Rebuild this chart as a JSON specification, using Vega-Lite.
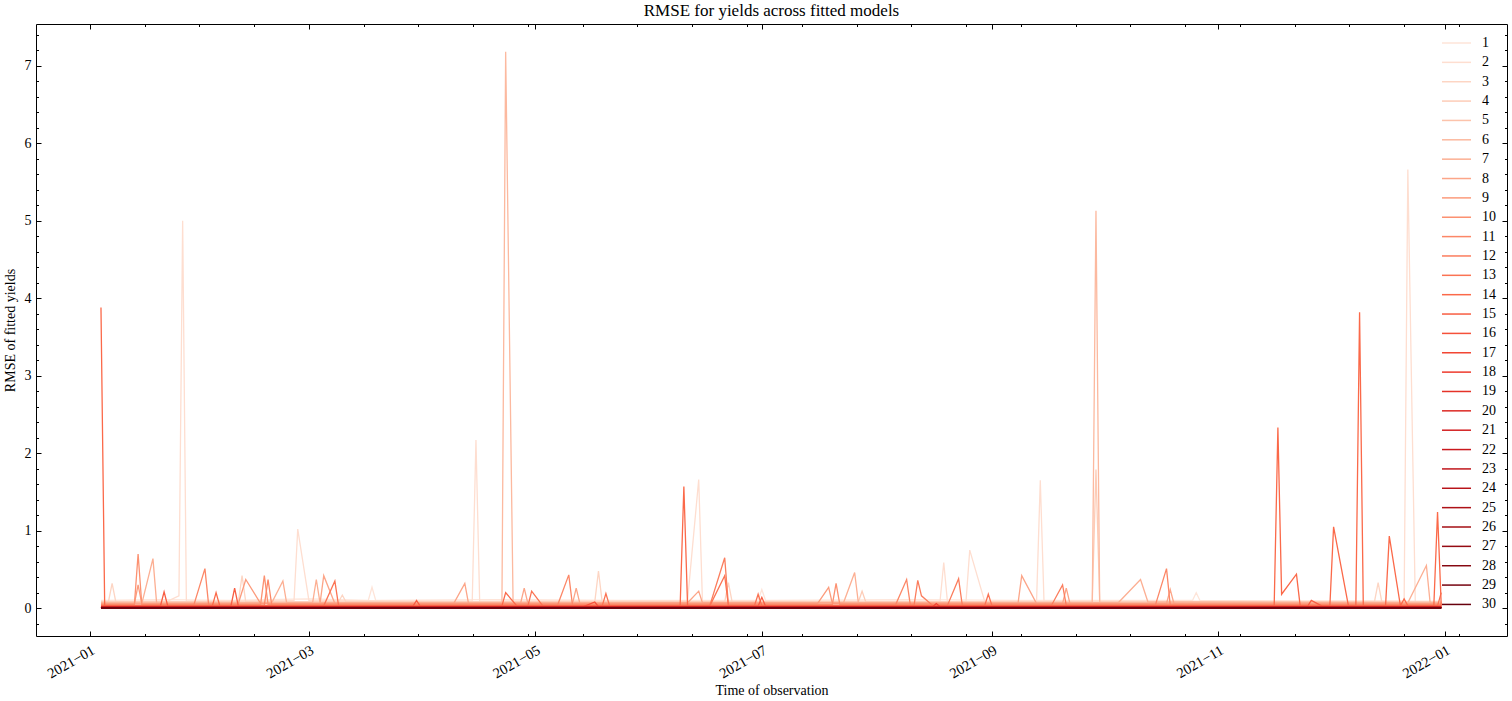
{
"$schema": "https://vega.github.io/schema/vega-lite/v6.json",
"width": 1471, "height": 612,
"autosize": {"type": "none"},
"padding": {"left": 36, "top": 24, "right": 5, "bottom": 65},
"background": "white",
"title": {"text": "RMSE for yields across fitted models", "font": "Liberation Serif", "fontSize": 17, "fontWeight": "normal", "color": "black", "offset": 4},
"config": {"font": "Liberation Serif", "view": {"stroke": null}},
"datasets": {"rmse": [
{"s":1,"d":"2021-01-04","v":0.1},{"s":1,"d":"2021-01-20","v":0.11},{"s":1,"d":"2021-02-08","v":0.1},{"s":1,"d":"2021-03-01","v":0.12},{"s":1,"d":"2021-03-17","v":0.1},{"s":1,"d":"2021-03-18","v":0.27},{"s":1,"d":"2021-03-19","v":0.1},{"s":1,"d":"2021-04-20","v":0.11},{"s":1,"d":"2021-05-25","v":0.1},{"s":1,"d":"2021-06-30","v":0.1},{"s":1,"d":"2021-07-01","v":0.24},{"s":1,"d":"2021-07-02","v":0.1},{"s":1,"d":"2021-08-10","v":0.11},{"s":1,"d":"2021-09-10","v":0.1},{"s":1,"d":"2021-10-25","v":0.1},{"s":1,"d":"2021-10-26","v":0.2},{"s":1,"d":"2021-10-27","v":0.1},{"s":1,"d":"2021-11-22","v":0.09},{"s":1,"d":"2021-12-31","v":0.09},
{"s":2,"d":"2021-01-04","v":0.09},{"s":2,"d":"2021-01-22","v":0.09},{"s":2,"d":"2021-01-25","v":0.16},{"s":2,"d":"2021-01-26","v":5.0},{"s":2,"d":"2021-01-27","v":0.09},{"s":2,"d":"2021-02-25","v":0.1},{"s":2,"d":"2021-02-26","v":1.02},{"s":2,"d":"2021-03-01","v":0.1},{"s":2,"d":"2021-04-14","v":0.09},{"s":2,"d":"2021-04-15","v":2.17},{"s":2,"d":"2021-04-16","v":0.09},{"s":2,"d":"2021-06-11","v":0.1},{"s":2,"d":"2021-06-14","v":1.66},{"s":2,"d":"2021-06-15","v":0.09},{"s":2,"d":"2021-08-18","v":0.09},{"s":2,"d":"2021-08-19","v":0.59},{"s":2,"d":"2021-08-20","v":0.08},{"s":2,"d":"2021-08-25","v":0.09},{"s":2,"d":"2021-08-26","v":0.75},{"s":2,"d":"2021-08-30","v":0.09},{"s":2,"d":"2021-09-13","v":0.09},{"s":2,"d":"2021-09-14","v":1.65},{"s":2,"d":"2021-09-15","v":0.09},{"s":2,"d":"2021-12-21","v":0.09},{"s":2,"d":"2021-12-22","v":5.66},{"s":2,"d":"2021-12-24","v":0.08},{"s":2,"d":"2021-12-31","v":0.08},
{"s":3,"d":"2021-01-04","v":0.08},{"s":3,"d":"2021-01-06","v":0.08},{"s":3,"d":"2021-01-07","v":0.32},{"s":3,"d":"2021-01-08","v":0.08},{"s":3,"d":"2021-02-10","v":0.08},{"s":3,"d":"2021-02-11","v":0.42},{"s":3,"d":"2021-02-12","v":0.08},{"s":3,"d":"2021-03-09","v":0.08},{"s":3,"d":"2021-03-10","v":0.17},{"s":3,"d":"2021-03-11","v":0.08},{"s":3,"d":"2021-05-17","v":0.08},{"s":3,"d":"2021-05-18","v":0.48},{"s":3,"d":"2021-05-19","v":0.08},{"s":3,"d":"2021-06-21","v":0.08},{"s":3,"d":"2021-06-22","v":0.33},{"s":3,"d":"2021-06-23","v":0.08},{"s":3,"d":"2021-12-13","v":0.08},{"s":3,"d":"2021-12-14","v":0.33},{"s":3,"d":"2021-12-15","v":0.08},{"s":3,"d":"2021-12-31","v":0.08},
{"s":4,"d":"2021-01-04","v":0.08},{"s":4,"d":"2021-03-01","v":0.08},{"s":4,"d":"2021-05-03","v":0.08},{"s":4,"d":"2021-07-27","v":0.08},{"s":4,"d":"2021-07-28","v":0.22},{"s":4,"d":"2021-07-29","v":0.08},{"s":4,"d":"2021-09-28","v":0.08},{"s":4,"d":"2021-09-29","v":1.79},{"s":4,"d":"2021-09-30","v":0.08},{"s":4,"d":"2021-12-31","v":0.08},
{"s":5,"d":"2021-01-04","v":0.075},{"s":5,"d":"2021-04-01","v":0.07},{"s":5,"d":"2021-07-01","v":0.075},{"s":5,"d":"2021-10-01","v":0.07},{"s":5,"d":"2021-12-31","v":0.07},
{"s":6,"d":"2021-01-04","v":0.07},{"s":6,"d":"2021-02-15","v":0.07},{"s":6,"d":"2021-04-22","v":0.07},{"s":6,"d":"2021-04-23","v":7.18},{"s":6,"d":"2021-04-25","v":0.07},{"s":6,"d":"2021-06-01","v":0.07},{"s":6,"d":"2021-09-28","v":0.07},{"s":6,"d":"2021-09-29","v":5.13},{"s":6,"d":"2021-09-30","v":0.07},{"s":6,"d":"2021-12-31","v":0.07},
{"s":7,"d":"2021-01-04","v":0.065},{"s":7,"d":"2021-01-15","v":0.06},{"s":7,"d":"2021-01-18","v":0.64},{"s":7,"d":"2021-01-19","v":0.06},{"s":7,"d":"2021-02-19","v":0.07},{"s":7,"d":"2021-02-22","v":0.35},{"s":7,"d":"2021-02-23","v":0.07},{"s":7,"d":"2021-03-02","v":0.07},{"s":7,"d":"2021-03-03","v":0.37},{"s":7,"d":"2021-03-04","v":0.07},{"s":7,"d":"2021-07-23","v":0.07},{"s":7,"d":"2021-07-26","v":0.46},{"s":7,"d":"2021-07-27","v":0.07},{"s":7,"d":"2021-10-05","v":0.07},{"s":7,"d":"2021-10-11","v":0.37},{"s":7,"d":"2021-10-13","v":0.08},{"s":7,"d":"2021-12-22","v":0.07},{"s":7,"d":"2021-12-27","v":0.55},{"s":7,"d":"2021-12-28","v":0.07},{"s":7,"d":"2021-12-31","v":0.06},
{"s":8,"d":"2021-01-04","v":0.06},{"s":8,"d":"2021-03-04","v":0.06},{"s":8,"d":"2021-03-05","v":0.42},{"s":8,"d":"2021-03-08","v":0.06},{"s":8,"d":"2021-04-09","v":0.06},{"s":8,"d":"2021-04-12","v":0.32},{"s":8,"d":"2021-04-13","v":0.06},{"s":8,"d":"2021-04-27","v":0.06},{"s":8,"d":"2021-04-28","v":0.26},{"s":8,"d":"2021-04-29","v":0.06},{"s":8,"d":"2021-05-11","v":0.06},{"s":8,"d":"2021-05-12","v":0.26},{"s":8,"d":"2021-05-13","v":0.06},{"s":8,"d":"2021-06-11","v":0.07},{"s":8,"d":"2021-06-14","v":0.22},{"s":8,"d":"2021-06-15","v":0.07},{"s":8,"d":"2021-09-08","v":0.06},{"s":8,"d":"2021-09-09","v":0.42},{"s":8,"d":"2021-09-13","v":0.06},{"s":8,"d":"2021-09-20","v":0.06},{"s":8,"d":"2021-09-21","v":0.26},{"s":8,"d":"2021-09-22","v":0.06},{"s":8,"d":"2021-10-18","v":0.06},{"s":8,"d":"2021-10-19","v":0.24},{"s":8,"d":"2021-10-20","v":0.06},{"s":8,"d":"2021-12-31","v":0.06},
{"s":9,"d":"2021-01-04","v":0.055},{"s":9,"d":"2021-01-13","v":0.055},{"s":9,"d":"2021-01-14","v":0.3},{"s":9,"d":"2021-01-15","v":0.055},{"s":9,"d":"2021-02-10","v":0.06},{"s":9,"d":"2021-02-12","v":0.37},{"s":9,"d":"2021-02-16","v":0.06},{"s":9,"d":"2021-07-16","v":0.06},{"s":9,"d":"2021-07-19","v":0.27},{"s":9,"d":"2021-07-20","v":0.06},{"s":9,"d":"2021-12-31","v":0.055},
{"s":10,"d":"2021-01-04","v":0.045},{"s":10,"d":"2021-01-13","v":0.045},{"s":10,"d":"2021-01-14","v":0.7},{"s":10,"d":"2021-01-15","v":0.045},{"s":10,"d":"2021-02-16","v":0.05},{"s":10,"d":"2021-02-17","v":0.42},{"s":10,"d":"2021-02-18","v":0.05},{"s":10,"d":"2021-07-20","v":0.05},{"s":10,"d":"2021-07-21","v":0.32},{"s":10,"d":"2021-07-22","v":0.05},{"s":10,"d":"2021-12-31","v":0.045},
{"s":11,"d":"2021-01-04","v":0.04},{"s":11,"d":"2021-01-29","v":0.04},{"s":11,"d":"2021-02-01","v":0.51},{"s":11,"d":"2021-02-02","v":0.04},{"s":11,"d":"2021-02-17","v":0.04},{"s":11,"d":"2021-02-18","v":0.37},{"s":11,"d":"2021-02-19","v":0.04},{"s":11,"d":"2021-05-07","v":0.04},{"s":11,"d":"2021-05-10","v":0.43},{"s":11,"d":"2021-05-11","v":0.04},{"s":11,"d":"2021-08-06","v":0.04},{"s":11,"d":"2021-08-09","v":0.37},{"s":11,"d":"2021-08-10","v":0.04},{"s":11,"d":"2021-10-15","v":0.04},{"s":11,"d":"2021-10-18","v":0.51},{"s":11,"d":"2021-10-19","v":0.04},{"s":11,"d":"2021-12-31","v":0.04},
{"s":12,"d":"2021-01-04","v":0.035},{"s":12,"d":"2021-06-17","v":0.035},{"s":12,"d":"2021-06-21","v":0.65},{"s":12,"d":"2021-06-22","v":0.035},{"s":12,"d":"2021-08-11","v":0.035},{"s":12,"d":"2021-08-12","v":0.36},{"s":12,"d":"2021-08-13","v":0.16},{"s":12,"d":"2021-08-16","v":0.035},{"s":12,"d":"2021-08-20","v":0.035},{"s":12,"d":"2021-08-23","v":0.38},{"s":12,"d":"2021-08-24","v":0.035},{"s":12,"d":"2021-09-17","v":0.035},{"s":12,"d":"2021-09-20","v":0.3},{"s":12,"d":"2021-09-21","v":0.035},{"s":12,"d":"2021-12-31","v":0.035},
{"s":13,"d":"2021-01-04","v":0.03},{"s":13,"d":"2021-03-05","v":0.03},{"s":13,"d":"2021-03-08","v":0.35},{"s":13,"d":"2021-03-09","v":0.03},{"s":13,"d":"2021-04-29","v":0.03},{"s":13,"d":"2021-04-30","v":0.22},{"s":13,"d":"2021-05-03","v":0.03},{"s":13,"d":"2021-05-19","v":0.03},{"s":13,"d":"2021-05-20","v":0.19},{"s":13,"d":"2021-05-21","v":0.03},{"s":13,"d":"2021-06-17","v":0.03},{"s":13,"d":"2021-06-21","v":0.42},{"s":13,"d":"2021-06-22","v":0.03},{"s":13,"d":"2021-06-29","v":0.03},{"s":13,"d":"2021-06-30","v":0.18},{"s":13,"d":"2021-07-01","v":0.03},{"s":13,"d":"2021-08-30","v":0.03},{"s":13,"d":"2021-08-31","v":0.18},{"s":13,"d":"2021-09-01","v":0.03},{"s":13,"d":"2021-12-30","v":0.03},{"s":13,"d":"2021-12-31","v":0.2},
{"s":14,"d":"2021-01-04","v":3.88},{"s":14,"d":"2021-01-05","v":0.03},{"s":14,"d":"2021-02-03","v":0.03},{"s":14,"d":"2021-02-04","v":0.2},{"s":14,"d":"2021-02-05","v":0.03},{"s":14,"d":"2021-04-22","v":0.03},{"s":14,"d":"2021-04-23","v":0.2},{"s":14,"d":"2021-04-26","v":0.03},{"s":14,"d":"2021-06-09","v":0.03},{"s":14,"d":"2021-06-10","v":1.57},{"s":14,"d":"2021-06-11","v":0.03},{"s":14,"d":"2021-11-16","v":0.03},{"s":14,"d":"2021-11-17","v":2.33},{"s":14,"d":"2021-11-18","v":0.18},{"s":14,"d":"2021-11-22","v":0.44},{"s":14,"d":"2021-11-23","v":0.03},{"s":14,"d":"2021-12-01","v":0.03},{"s":14,"d":"2021-12-02","v":1.05},{"s":14,"d":"2021-12-06","v":0.03},{"s":14,"d":"2021-12-08","v":0.03},{"s":14,"d":"2021-12-09","v":3.82},{"s":14,"d":"2021-12-10","v":0.03},{"s":14,"d":"2021-12-16","v":0.03},{"s":14,"d":"2021-12-17","v":0.93},{"s":14,"d":"2021-12-20","v":0.03},{"s":14,"d":"2021-12-21","v":0.12},{"s":14,"d":"2021-12-22","v":0.03},{"s":14,"d":"2021-12-29","v":0.03},{"s":14,"d":"2021-12-30","v":1.24},{"s":14,"d":"2021-12-31","v":0.03},
{"s":15,"d":"2021-01-04","v":0.025},{"s":15,"d":"2021-01-20","v":0.025},{"s":15,"d":"2021-01-21","v":0.21},{"s":15,"d":"2021-01-22","v":0.025},{"s":15,"d":"2021-02-08","v":0.025},{"s":15,"d":"2021-02-09","v":0.26},{"s":15,"d":"2021-02-10","v":0.025},{"s":15,"d":"2021-03-29","v":0.025},{"s":15,"d":"2021-03-30","v":0.1},{"s":15,"d":"2021-03-31","v":0.025},{"s":15,"d":"2021-06-30","v":0.025},{"s":15,"d":"2021-07-01","v":0.14},{"s":15,"d":"2021-07-02","v":0.025},{"s":15,"d":"2021-11-25","v":0.025},{"s":15,"d":"2021-11-26","v":0.1},{"s":15,"d":"2021-11-29","v":0.025},{"s":15,"d":"2021-12-31","v":0.025},
{"s":16,"d":"2021-01-04","v":0.02},{"s":16,"d":"2021-03-01","v":0.02},{"s":16,"d":"2021-05-14","v":0.02},{"s":16,"d":"2021-05-17","v":0.08},{"s":16,"d":"2021-05-18","v":0.02},{"s":16,"d":"2021-08-02","v":0.02},{"s":16,"d":"2021-10-01","v":0.02},{"s":16,"d":"2021-12-31","v":0.02},
{"s":17,"d":"2021-01-04","v":0.018},{"s":17,"d":"2021-04-01","v":0.018},{"s":17,"d":"2021-08-16","v":0.018},{"s":17,"d":"2021-08-17","v":0.06},{"s":17,"d":"2021-08-18","v":0.018},{"s":17,"d":"2021-12-31","v":0.018},
{"s":18,"d":"2021-01-04","v":0.016},{"s":18,"d":"2021-06-01","v":0.016},{"s":18,"d":"2021-12-31","v":0.016},
{"s":19,"d":"2021-01-04","v":0.014},{"s":19,"d":"2021-06-01","v":0.014},{"s":19,"d":"2021-12-31","v":0.014},
{"s":20,"d":"2021-01-04","v":0.012},{"s":20,"d":"2021-12-31","v":0.012},
{"s":21,"d":"2021-01-04","v":0.011},{"s":21,"d":"2021-12-31","v":0.011},
{"s":22,"d":"2021-01-04","v":0.01},{"s":22,"d":"2021-12-31","v":0.01},
{"s":23,"d":"2021-01-04","v":0.009},{"s":23,"d":"2021-12-31","v":0.009},
{"s":24,"d":"2021-01-04","v":0.008},{"s":24,"d":"2021-12-31","v":0.008},
{"s":25,"d":"2021-01-04","v":0.007},{"s":25,"d":"2021-12-31","v":0.007},
{"s":26,"d":"2021-01-04","v":0.006},{"s":26,"d":"2021-12-31","v":0.006},
{"s":27,"d":"2021-01-04","v":0.005},{"s":27,"d":"2021-12-31","v":0.005},
{"s":28,"d":"2021-01-04","v":0.004},{"s":28,"d":"2021-12-31","v":0.004},
{"s":29,"d":"2021-01-04","v":0.003},{"s":29,"d":"2021-12-31","v":0.003},
{"s":30,"d":"2021-01-04","v":0.002},{"s":30,"d":"2021-12-31","v":0.002}
]},
"layer": [
{
"data": {"name": "rmse"},
"mark": {"type": "line", "strokeWidth": 1.3, "clip": true},
"encoding": {
"x": {"field": "d", "type": "temporal",
 "scale": {"type": "utc", "domain": [{"year": 2020, "month": 12, "date": 17, "hours": 12, "utc": true}, {"year": 2022, "month": 1, "date": 17, "hours": 17, "utc": true}]},
 "axis": {"orient": "bottom", "grid": false, "domainColor": "black", "tickColor": "black", "labelColor": "black", "titleColor": "black",
  "values": [1608184800000,1609459200000,1610733600000,1612008000000,1613282400000,1614556800000,1615831200000,1617105600000,1618380000000,1619654400000,1619827200000,1620928800000,1622203200000,1623477600000,1624752000000,1625097600000,1626026400000,1627300800000,1628575200000,1629849600000,1630454400000,1631124000000,1632398400000,1633672800000,1634947200000,1635724800000,1636221600000,1637496000000,1638770400000,1640044800000,1640995200000,1641319200000],
  "labelExpr": "(utcdate(datum.value)==1 && utchours(datum.value)==0 && utcmonth(datum.value)%2==0) ? utcFormat(datum.value, '%Y\u2212%m') : ''",
  "tickSize": {"condition": {"test": "utcdate(datum.value)==1 && utchours(datum.value)==0 && utcmonth(datum.value)%2==0", "value": -5}, "value": -2.5},
  "labelAngle": -30, "labelAlign": "right", "labelBaseline": "top", "labelFontSize": 14.5, "labelPadding": 12, "labelOverlap": false, "labelFlush": false, "labelBound": false,
  "title": "Time of observation", "titleFontSize": 14, "titleFontWeight": "normal", "titlePadding": 3}},
"y": {"field": "v", "type": "quantitative",
 "scale": {"domain": [-0.359, 7.539], "nice": false, "zero": false},
 "axis": {"orient": "left", "grid": false, "domainColor": "black", "tickColor": "black", "labelColor": "black", "titleColor": "black",
  "values": [-0.2,0,0.2,0.4,0.6,0.8,1,1.2,1.4,1.6,1.8,2,2.2,2.4,2.6,2.8,3,3.2,3.4,3.6,3.8,4,4.2,4.4,4.6,4.8,5,5.2,5.4,5.6,5.8,6,6.2,6.4,6.6,6.8,7,7.2,7.4],
  "labelExpr": "datum.value % 1 === 0 ? format(datum.value, 'd') : ''",
  "tickSize": {"condition": {"test": "datum.value % 1 === 0", "value": -5}, "value": -2.5},
  "labelFontSize": 14, "labelPadding": 10, "labelOverlap": false, "labelFlush": false, "labelBound": false,
  "title": "RMSE of fitted yields", "titleFontSize": 14, "titleFontWeight": "normal", "titlePadding": 7}},
"color": {"field": "s", "type": "ordinal",
 "scale": {"domain": [1,2,3,4,5,6,7,8,9,10,11,12,13,14,15,16,17,18,19,20,21,22,23,24,25,26,27,28,29,30],
  "range": ["#fee4d8","#feded0","#fdd5c3","#fdccb7","#fcc3ab","#fcb99f","#fcaf93","#fca588","#fc9b7c","#fc9171","#fc8767","#fb7d5d","#fb7353","#fb6949","#f85d42","#f5513a","#f24633","#ee3a2c","#e53228","#dc2924","#d32021","#ca181d","#c1161b","#b81319","#ae1117","#a50f15","#950b13","#860811","#76040f","#67000d"]},
 "legend": {"orient": "none", "legendX": 1410, "legendY": 8.5, "title": null, "padding": 0, "rowPadding": 1.36,
  "symbolType": "M-1.5,0H1.5", "symbolSize": 375, "symbolStrokeWidth": 1.5, "labelFontSize": 14, "labelColor": "black", "labelOffset": 15}}
}
},
{
"data": {"values": [{"d": "2021-06-01", "v": 0}]},
"mark": {"type": "point", "opacity": 0},
"encoding": {
"x": {"field": "d", "type": "temporal",
 "scale": {"type": "utc", "domain": [{"year": 2020, "month": 12, "date": 17, "hours": 12, "utc": true}, {"year": 2022, "month": 1, "date": 17, "hours": 17, "utc": true}]},
 "axis": {"orient": "top", "grid": false, "labels": false, "title": null, "domainColor": "black", "tickColor": "black",
  "values": [1608184800000,1609459200000,1610733600000,1612008000000,1613282400000,1614556800000,1615831200000,1617105600000,1618380000000,1619654400000,1619827200000,1620928800000,1622203200000,1623477600000,1624752000000,1625097600000,1626026400000,1627300800000,1628575200000,1629849600000,1630454400000,1631124000000,1632398400000,1633672800000,1634947200000,1635724800000,1636221600000,1637496000000,1638770400000,1640044800000,1640995200000,1641319200000],
  "tickSize": {"condition": {"test": "utcdate(datum.value)==1 && utchours(datum.value)==0 && utcmonth(datum.value)%2==0", "value": -5}, "value": -2.5}}},
"y": {"field": "v", "type": "quantitative",
 "scale": {"domain": [-0.359, 7.539], "nice": false, "zero": false},
 "axis": {"orient": "right", "grid": false, "labels": false, "title": null, "domainColor": "black", "tickColor": "black",
  "values": [-0.2,0,0.2,0.4,0.6,0.8,1,1.2,1.4,1.6,1.8,2,2.2,2.4,2.6,2.8,3,3.2,3.4,3.6,3.8,4,4.2,4.4,4.6,4.8,5,5.2,5.4,5.6,5.8,6,6.2,6.4,6.6,6.8,7,7.2,7.4],
  "tickSize": {"condition": {"test": "datum.value % 1 === 0", "value": -5}, "value": -2.5}}}
}
}
],
"resolve": {"axis": {"x": "independent", "y": "independent"}}
}
